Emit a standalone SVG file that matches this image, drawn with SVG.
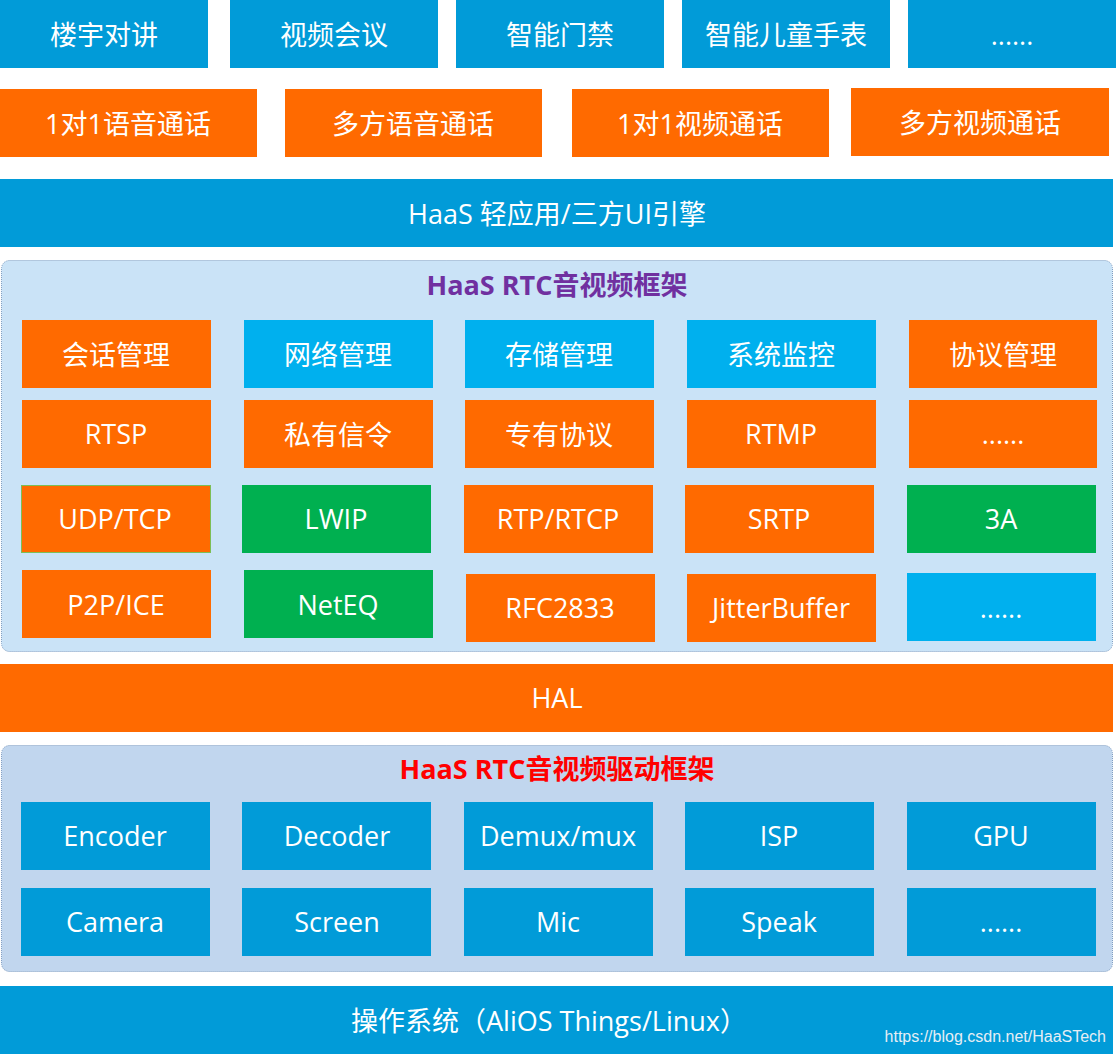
<svg xmlns="http://www.w3.org/2000/svg" width="1116" height="1054" viewBox="0 0 1116 1054">
<style>
.b{fill:#019BD8}
.lb{fill:#00B0EE}
.o{fill:#FF6A00}
.g{fill:#00B050}
.t{fill:#fff;font-family:"Open Sans","Noto Sans CJK SC",sans-serif;font-size:27px;text-anchor:middle;dominant-baseline:central}
.c1{fill:#CAE3F7;stroke:#7F9DC0;stroke-width:1;stroke-dasharray:1 1}
.c2{fill:#C1D6EE;stroke:#7F9DC0;stroke-width:1;stroke-dasharray:1 1}
.ttl{font-family:"Open Sans","Noto Sans CJK SC",sans-serif;font-size:27px;font-weight:bold;text-anchor:middle;dominant-baseline:central}
</style>
<rect width="1116" height="1054" fill="#fff"/>
<g id="row1">
<g id="n-louyu"><rect class="b" x="0" y="0" width="208" height="68"/><text class="t" x="104" y="34">楼宇对讲</text></g>
<g id="n-shipinhuiyi"><rect class="b" x="230" y="0" width="208" height="68"/><text class="t" x="334" y="34">视频会议</text></g>
<g id="n-menjin"><rect class="b" x="456" y="0" width="208" height="68"/><text class="t" x="560" y="34">智能门禁</text></g>
<g id="n-shoubiao"><rect class="b" x="682" y="0" width="208" height="68"/><text class="t" x="786" y="34">智能儿童手表</text></g>
<g id="n-more1"><rect class="b" x="908" y="0" width="208" height="68"/><text class="t" x="1012" y="34">......</text></g>
</g>
<g id="row2">
<g id="n-1v1voice"><rect class="o" x="0" y="89" width="257" height="68"/><text class="t" x="128" y="123">1对1语音通话</text></g>
<g id="n-multivoice"><rect class="o" x="285" y="89" width="257" height="68"/><text class="t" x="413" y="123">多方语音通话</text></g>
<g id="n-1v1video"><rect class="o" x="572" y="89" width="257" height="68"/><text class="t" x="700" y="123">1对1视频通话</text></g>
<g id="n-multivideo"><rect class="o" x="851" y="88" width="258" height="68"/><text class="t" x="980" y="122">多方视频通话</text></g>
</g>
<g id="n-haasui"><rect class="b" x="0" y="179" width="1113" height="68"/><text class="t" x="557" y="213">HaaS 轻应用/三方UI引擎</text></g>

<g id="rtc-framework">
<rect class="c1" x="1.5" y="260.5" width="1111" height="391" rx="8"/>
<text class="ttl" x="557" y="284" fill="#7030A0">HaaS RTC音视频框架</text>
<g id="n-huihua"><rect class="o" x="22" y="320" width="189" height="68"/><text class="t" x="116" y="354">会话管理</text></g>
<g id="n-wangluo"><rect class="lb" x="244" y="320" width="189" height="68"/><text class="t" x="338" y="354">网络管理</text></g>
<g id="n-cunchu"><rect class="lb" x="465" y="320" width="189" height="68"/><text class="t" x="559" y="354">存储管理</text></g>
<g id="n-jiankong"><rect class="lb" x="687" y="320" width="189" height="68"/><text class="t" x="781" y="354">系统监控</text></g>
<g id="n-xieyi"><rect class="o" x="909" y="320" width="188" height="68"/><text class="t" x="1003" y="354">协议管理</text></g>

<g id="n-rtsp"><rect class="o" x="22" y="400" width="189" height="68"/><text class="t" x="116" y="433">RTSP</text></g>
<g id="n-siyou"><rect class="o" x="244" y="400" width="189" height="68"/><text class="t" x="338" y="434">私有信令</text></g>
<g id="n-zhuanyou"><rect class="o" x="465" y="400" width="189" height="68"/><text class="t" x="559" y="434">专有协议</text></g>
<g id="n-rtmp"><rect class="o" x="687" y="400" width="189" height="68"/><text class="t" x="781" y="433">RTMP</text></g>
<g id="n-more2"><rect class="o" x="909" y="400" width="188" height="68"/><text class="t" x="1003" y="433">......</text></g>

<g id="n-udptcp"><rect class="o" x="21.5" y="485.5" width="189" height="67" stroke="#7DBE55" stroke-width="1"/><text class="t" x="115" y="518">UDP/TCP</text></g>
<g id="n-lwip"><rect class="g" x="242" y="485" width="189" height="68"/><text class="t" x="336" y="518">LWIP</text></g>
<g id="n-rtprtcp"><rect class="o" x="464" y="485" width="189" height="68"/><text class="t" x="558" y="518">RTP/RTCP</text></g>
<g id="n-srtp"><rect class="o" x="685" y="485" width="189" height="68"/><text class="t" x="779" y="518">SRTP</text></g>
<g id="n-3a"><rect class="g" x="907" y="485" width="189" height="68"/><text class="t" x="1001" y="518">3A</text></g>

<g id="n-p2p"><rect class="o" x="22" y="570" width="189" height="68"/><text class="t" x="116" y="604">P2P/ICE</text></g>
<g id="n-neteq"><rect class="g" x="244" y="570" width="189" height="68"/><text class="t" x="338" y="604">NetEQ</text></g>
<g id="n-rfc"><rect class="o" x="466" y="574" width="189" height="68"/><text class="t" x="560" y="607">RFC2833</text></g>
<g id="n-jitter"><rect class="o" x="687" y="574" width="189" height="68"/><text class="t" x="781" y="607">JitterBuffer</text></g>
<g id="n-more3"><rect class="lb" x="907" y="573" width="189" height="68"/><text class="t" x="1001" y="607">......</text></g>
</g>

<g id="n-hal"><rect class="o" x="0" y="664" width="1113" height="68"/><text class="t" x="557" y="697">HAL</text></g>

<g id="driver-framework">
<rect class="c2" x="1.5" y="745.5" width="1111" height="226" rx="8"/>
<text class="ttl" x="557" y="768" fill="#FF0000">HaaS RTC音视频驱动框架</text>
<g id="n-encoder"><rect class="b" x="21" y="802" width="189" height="68"/><text class="t" x="115" y="835">Encoder</text></g>
<g id="n-decoder"><rect class="b" x="242" y="802" width="189" height="68"/><text class="t" x="337" y="835">Decoder</text></g>
<g id="n-demux"><rect class="b" x="464" y="802" width="189" height="68"/><text class="t" x="558" y="835">Demux/mux</text></g>
<g id="n-isp"><rect class="b" x="685" y="802" width="189" height="68"/><text class="t" x="779" y="835">ISP</text></g>
<g id="n-gpu"><rect class="b" x="907" y="802" width="189" height="68"/><text class="t" x="1001" y="835">GPU</text></g>
<g id="n-camera"><rect class="b" x="21" y="888" width="189" height="68"/><text class="t" x="115" y="921">Camera</text></g>
<g id="n-screen"><rect class="b" x="242" y="888" width="189" height="68"/><text class="t" x="337" y="921">Screen</text></g>
<g id="n-mic"><rect class="b" x="464" y="888" width="189" height="68"/><text class="t" x="558" y="921">Mic</text></g>
<g id="n-speak"><rect class="b" x="685" y="888" width="189" height="68"/><text class="t" x="779" y="921">Speak</text></g>
<g id="n-more4"><rect class="b" x="907" y="888" width="189" height="68"/><text class="t" x="1001" y="921">......</text></g>
</g>

<g id="n-os"><rect class="b" x="0" y="986" width="1113" height="68"/><text class="t" x="549" y="1020">操作系统（AliOS Things/Linux）</text>
<text x="1106" y="1036" fill="#E6EEF5" font-family="'Liberation Sans',Arial,sans-serif" font-size="16" text-anchor="end" dominant-baseline="central">https://blog.csdn.net/HaaSTech</text></g>
<g id="connectors"/>
</svg>
